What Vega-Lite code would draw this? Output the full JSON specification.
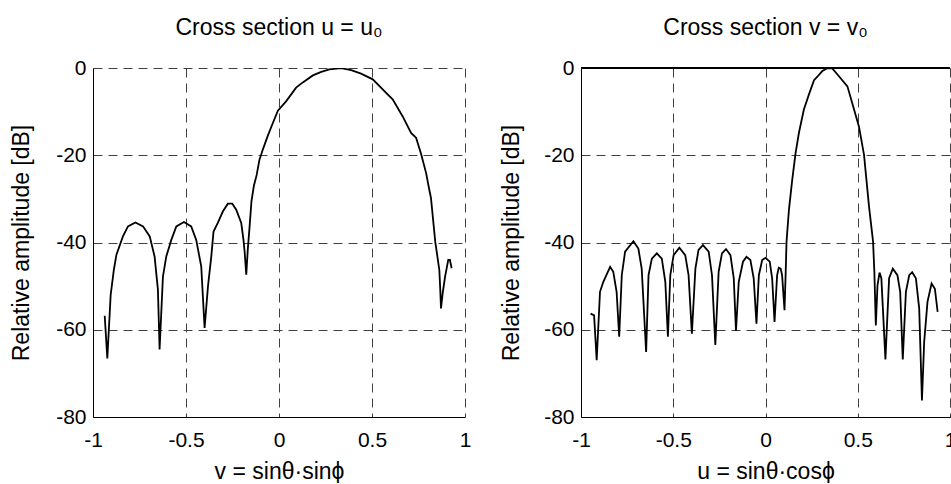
{
  "$schema": "https://vega.github.io/schema/vega-lite/v6.json",
  "background": "white",
  "padding": {"left": 10, "top": 17, "right": 0, "bottom": 0},
  "spacing": 116,
  "bounds": "flush",
  "datasets": {
    "cutU": [
      {"v": -0.937, "db": -56.8}, {"v": -0.923, "db": -66.6}, {"v": -0.905, "db": -52.0},
      {"v": -0.888, "db": -46.3}, {"v": -0.874, "db": -42.8}, {"v": -0.839, "db": -38.6},
      {"v": -0.812, "db": -36.3}, {"v": -0.772, "db": -35.4}, {"v": -0.731, "db": -36.3},
      {"v": -0.695, "db": -38.6}, {"v": -0.669, "db": -43.2}, {"v": -0.651, "db": -50.8},
      {"v": -0.642, "db": -64.5}, {"v": -0.624, "db": -47.8}, {"v": -0.606, "db": -43.2},
      {"v": -0.579, "db": -39.4}, {"v": -0.552, "db": -36.3}, {"v": -0.511, "db": -35.3},
      {"v": -0.472, "db": -36.3}, {"v": -0.445, "db": -39.4}, {"v": -0.418, "db": -45.5},
      {"v": -0.400, "db": -59.6}, {"v": -0.382, "db": -50.1}, {"v": -0.364, "db": -43.2},
      {"v": -0.352, "db": -37.5}, {"v": -0.329, "db": -35.5}, {"v": -0.302, "db": -32.9},
      {"v": -0.275, "db": -31.1}, {"v": -0.251, "db": -31.1}, {"v": -0.230, "db": -32.5},
      {"v": -0.203, "db": -35.5}, {"v": -0.191, "db": -39.4}, {"v": -0.185, "db": -42.0},
      {"v": -0.176, "db": -47.4}, {"v": -0.168, "db": -41.7}, {"v": -0.158, "db": -36.3},
      {"v": -0.148, "db": -30.5}, {"v": -0.135, "db": -27.0}, {"v": -0.120, "db": -24.5},
      {"v": -0.105, "db": -21.0}, {"v": -0.087, "db": -18.7}, {"v": -0.060, "db": -15.5},
      {"v": -0.033, "db": -12.6}, {"v": -0.006, "db": -9.8}, {"v": 0.039, "db": -7.6},
      {"v": 0.092, "db": -4.5}, {"v": 0.128, "db": -3.3}, {"v": 0.182, "db": -1.7},
      {"v": 0.227, "db": -0.9}, {"v": 0.271, "db": -0.3}, {"v": 0.334, "db": -0.05},
      {"v": 0.388, "db": -0.5}, {"v": 0.441, "db": -1.3}, {"v": 0.504, "db": -2.6},
      {"v": 0.576, "db": -5.7}, {"v": 0.611, "db": -7.2}, {"v": 0.665, "db": -11.1},
      {"v": 0.710, "db": -14.9}, {"v": 0.737, "db": -16.0}, {"v": 0.764, "db": -19.7},
      {"v": 0.791, "db": -24.1}, {"v": 0.808, "db": -27.9}, {"v": 0.817, "db": -29.8},
      {"v": 0.840, "db": -39.8}, {"v": 0.862, "db": -46.3}, {"v": 0.867, "db": -50.8},
      {"v": 0.871, "db": -55.1}, {"v": 0.880, "db": -51.6}, {"v": 0.893, "db": -47.8},
      {"v": 0.910, "db": -44.0}, {"v": 0.919, "db": -44.0}, {"v": 0.928, "db": -45.9}
    ],
    "cutV": [
      {"u": -0.948, "db": -56.3}, {"u": -0.929, "db": -56.7}, {"u": -0.915, "db": -67.0},
      {"u": -0.897, "db": -51.3}, {"u": -0.879, "db": -49.0}, {"u": -0.842, "db": -45.6},
      {"u": -0.825, "db": -46.7}, {"u": -0.807, "db": -51.3}, {"u": -0.793, "db": -61.6},
      {"u": -0.779, "db": -47.5}, {"u": -0.761, "db": -42.1}, {"u": -0.716, "db": -39.7},
      {"u": -0.689, "db": -41.4}, {"u": -0.671, "db": -46.0}, {"u": -0.647, "db": -65.1},
      {"u": -0.634, "db": -47.5}, {"u": -0.616, "db": -43.7}, {"u": -0.589, "db": -42.5},
      {"u": -0.562, "db": -43.7}, {"u": -0.543, "db": -49.0}, {"u": -0.529, "db": -61.6},
      {"u": -0.516, "db": -47.5}, {"u": -0.498, "db": -42.9}, {"u": -0.467, "db": -41.2},
      {"u": -0.435, "db": -42.9}, {"u": -0.417, "db": -47.5}, {"u": -0.399, "db": -60.9},
      {"u": -0.380, "db": -46.0}, {"u": -0.363, "db": -41.7}, {"u": -0.339, "db": -40.6},
      {"u": -0.308, "db": -42.1}, {"u": -0.290, "db": -47.5}, {"u": -0.272, "db": -63.5},
      {"u": -0.254, "db": -46.7}, {"u": -0.236, "db": -42.5}, {"u": -0.214, "db": -41.5},
      {"u": -0.190, "db": -42.9}, {"u": -0.172, "db": -48.2}, {"u": -0.160, "db": -60.3},
      {"u": -0.145, "db": -49.0}, {"u": -0.122, "db": -44.4}, {"u": -0.103, "db": -43.3},
      {"u": -0.082, "db": -44.0}, {"u": -0.064, "db": -48.2}, {"u": -0.049, "db": -58.6},
      {"u": -0.036, "db": -47.5}, {"u": -0.018, "db": -44.0}, {"u": 0.000, "db": -43.5},
      {"u": 0.023, "db": -44.4}, {"u": 0.036, "db": -48.2}, {"u": 0.049, "db": -58.2},
      {"u": 0.063, "db": -47.5}, {"u": 0.072, "db": -45.8}, {"u": 0.082, "db": -46.0},
      {"u": 0.090, "db": -47.5}, {"u": 0.103, "db": -55.5}, {"u": 0.109, "db": -47.5},
      {"u": 0.114, "db": -39.8}, {"u": 0.127, "db": -32.5}, {"u": 0.145, "db": -25.6},
      {"u": 0.163, "db": -19.5}, {"u": 0.181, "db": -14.9}, {"u": 0.208, "db": -9.5},
      {"u": 0.235, "db": -6.1}, {"u": 0.263, "db": -2.8}, {"u": 0.281, "db": -2.0},
      {"u": 0.308, "db": -0.7}, {"u": 0.335, "db": -0.05}, {"u": 0.362, "db": -0.1},
      {"u": 0.398, "db": -1.9}, {"u": 0.444, "db": -4.2}, {"u": 0.480, "db": -9.5},
      {"u": 0.507, "db": -13.5}, {"u": 0.534, "db": -19.9}, {"u": 0.561, "db": -31.7},
      {"u": 0.583, "db": -39.8}, {"u": 0.590, "db": -46.7}, {"u": 0.598, "db": -59.0},
      {"u": 0.607, "db": -49.8}, {"u": 0.618, "db": -46.9}, {"u": 0.628, "db": -48.2},
      {"u": 0.650, "db": -66.8}, {"u": 0.670, "db": -48.2}, {"u": 0.690, "db": -46.0},
      {"u": 0.715, "db": -47.5}, {"u": 0.730, "db": -51.3}, {"u": 0.744, "db": -66.8},
      {"u": 0.761, "db": -51.3}, {"u": 0.779, "db": -47.5}, {"u": 0.795, "db": -46.8},
      {"u": 0.815, "db": -48.2}, {"u": 0.833, "db": -55.1}, {"u": 0.848, "db": -76.2},
      {"u": 0.860, "db": -62.8}, {"u": 0.878, "db": -53.6}, {"u": 0.900, "db": -49.4},
      {"u": 0.918, "db": -50.6}, {"u": 0.933, "db": -55.9}
    ]
  },
  "config": {
    "view": {"stroke": null},
    "font": "Liberation Sans",
    "axis": {
      "domainColor": "black",
      "domainWidth": 1,
      "ticks": false,
      "grid": true,
      "gridColor": "#404040",
      "gridDash": [9, 6],
      "gridWidth": 1,
      "gridOpacity": 1,
      "labelColor": "black",
      "labelFont": "Liberation Sans",
      "labelFontSize": 21,
      "labelFlush": false,
      "labelOverlap": false,
      "labelExpr": "'' + datum.value",
      "titleColor": "black",
      "titleFont": "Liberation Sans",
      "titleFontSize": 23,
      "titleFontWeight": "normal"
    },
    "axisX": {"labelPadding": 12, "titleBaseline": "alphabetic", "titleAlign": "center", "titleY": 61},
    "axisY": {"labelPadding": 7, "titleBaseline": "alphabetic", "titleAlign": "center", "titleAngle": -90, "titleY": 174.5},
    "title": {
      "font": "Liberation Sans",
      "fontSize": 23,
      "fontWeight": "normal",
      "color": "black",
      "anchor": "middle",
      "frame": "group",
      "baseline": "alphabetic",
      "offset": 17
    }
  },
  "hconcat": [
    {
      "width": 372,
      "height": 349,
      "title": "Cross section u = u₀",
      "data": {"name": "cutU"},
      "mark": {"type": "line", "color": "black", "strokeWidth": 1.8, "clip": true},
      "encoding": {
        "x": {
          "field": "v", "type": "quantitative",
          "scale": {"domain": [-1, 1], "nice": false, "zero": false},
          "axis": {"values": [-1, -0.5, 0, 0.5, 1], "title": "v = sinθ·sinϕ", "titleX": 186}
        },
        "y": {
          "field": "db", "type": "quantitative",
          "scale": {"domain": [-80, 0], "nice": false},
          "axis": {"values": [-80, -60, -40, -20, 0], "title": "Relative amplitude [dB]", "titleX": -65}
        }
      }
    },
    {
      "width": 369,
      "height": 349,
      "title": "Cross section v = v₀",
      "data": {"name": "cutV"},
      "encoding": {
        "x": {
          "field": "u", "type": "quantitative",
          "scale": {"domain": [-1, 1], "nice": false, "zero": false},
          "axis": {"values": [-1, -0.5, 0, 0.5, 1], "title": "u = sinθ·cosϕ", "titleX": 184.5}
        },
        "y": {
          "field": "db", "type": "quantitative",
          "scale": {"domain": [-80, 0], "nice": false},
          "axis": {"values": [-80, -60, -40, -20, 0], "title": "Relative amplitude [dB]", "titleX": -63}
        }
      },
      "layer": [
        {"mark": {"type": "line", "color": "black", "strokeWidth": 1.8, "clip": true}},
        {
          "mark": {"type": "rule", "color": "black", "strokeWidth": 1},
          "encoding": {"x": null, "y": {"datum": 0}}
        }
      ]
    }
  ]
}
